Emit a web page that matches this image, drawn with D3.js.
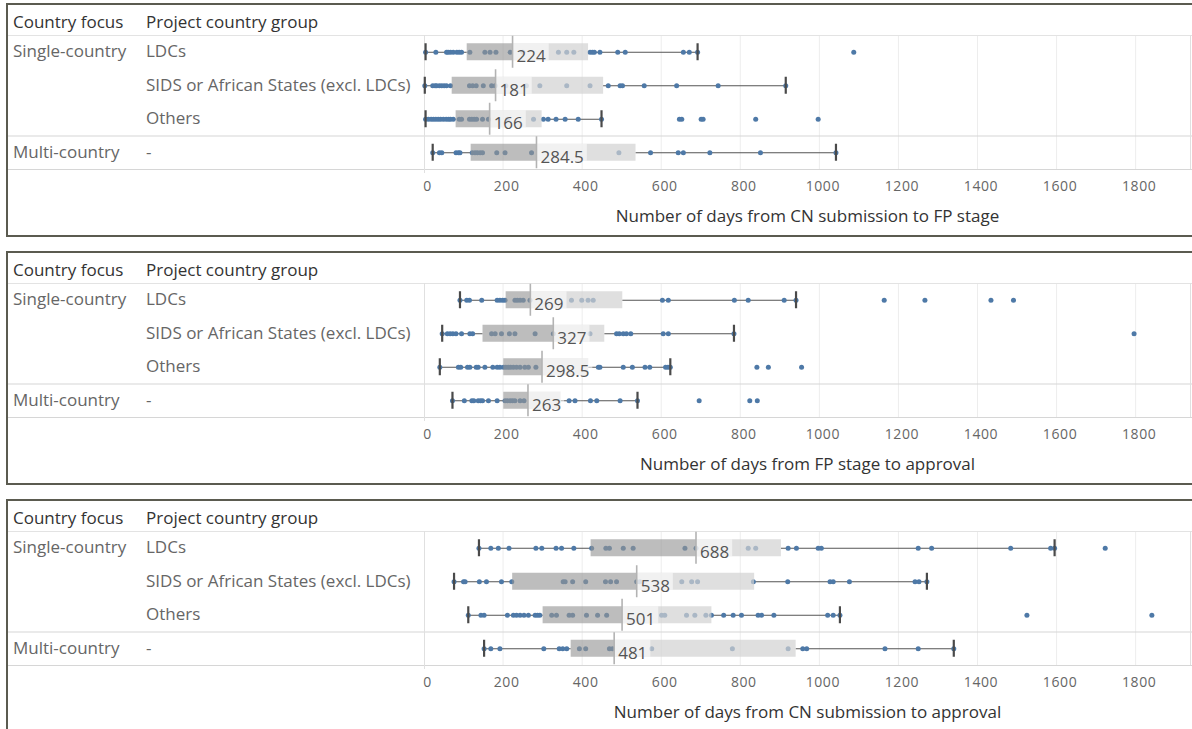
<!DOCTYPE html>
<html>
<head>
<meta charset="utf-8">
<script src="https://cdn.jsdelivr.net/npm/d3@7"></script>
<style>
  html, body { margin: 0; padding: 0; background: #fff; }
  svg { display: block; font-family: "Open Sans", Lato, sans-serif; }
</style>
</head>
<body>
<svg id="chart" width="1192" height="729"></svg>
<script>
// ---- data -------------------------------------------------------------
const groups = ["LDCs", "SIDS or African States (excl. LDCs)", "Others", "-"];
const focus = ["Single-country", "", "", "Multi-country"];
const tickValues = [0, 200, 400, 600, 800, 1000, 1200, 1400, 1600, 1800];
const axisTitles = [
  "Number of days from CN submission to FP stage",
  "Number of days from FP stage to approval",
  "Number of days from CN submission to approval"
];

// CN submission -> FP stage
const cnFpDays = [
  [4, 30, 57, 61, 67, 74, 83, 89, 95, 116, 154, 167, 182, 218, 250, 340, 361, 379, 420, 426, 431, 445, 490, 509, 656, 671, 692, 1087],
  [2, 22, 28, 32, 39, 45, 51, 57, 67, 115, 123, 132, 150, 171, 180, 207, 259, 293, 361, 420, 466, 496, 502, 557, 639, 744, 915],
  [4, 11, 18, 24, 30, 36, 42, 49, 56, 62, 67, 74, 89, 95, 115, 121, 127, 133, 148, 163, 211, 277, 302, 314, 334, 357, 390, 449, 646, 652, 701, 706, 839, 997],
  [22, 39, 45, 81, 87, 91, 122, 129, 135, 142, 148, 184, 205, 272, 493, 573, 643, 656, 723, 851, 1042]
];
const cnFpLow = [4, 2, 4, 22];
const cnFpQ1 = [108, 70, 80, 118];
const cnFpMedian = [224, 181, 166, 284.5];
const cnFpQ3 = [415, 453, 297.5, 535];
const cnFpHigh = [692, 915, 449, 1042];

// FP stage -> approval
const fpApDays = [
  [91, 108, 115, 146, 185, 192, 199, 205, 230, 236, 243, 251, 268, 373, 399, 415, 428, 603, 618, 785, 820, 911, 941, 1164, 1267, 1434, 1491],
  [46, 59, 66, 73, 81, 95, 116, 123, 171, 180, 196, 216, 230, 281, 327, 420, 487, 494, 504, 512, 523, 605, 618, 784, 1796],
  [40, 87, 93, 110, 116, 132, 137, 154, 174, 185, 192, 201, 207, 213, 219, 226, 234, 243, 255, 264, 283, 441, 445, 504, 527, 559, 571, 611, 617, 623, 842, 871, 955],
  [72, 102, 121, 126, 137, 143, 148, 163, 185, 205, 211, 218, 224, 230, 243, 253, 367, 382, 421, 437, 496, 540, 696, 824, 843]
];
const fpApLow = [91, 46, 40, 72];
const fpApQ1 = [206.5, 148, 200.6, 200.6];
const fpApMedian = [269, 327, 298.5, 263];
const fpApQ3 = [501.5, 456, 415.5, 345.5];
const fpApHigh = [941, 784, 623, 540];

// CN submission -> approval
const cnApDays = [
  [139, 169, 188, 215, 283, 298, 334, 348, 379, 424, 460, 469, 504, 529, 660, 688, 820, 839, 921, 942, 997, 1005, 1250, 1284, 1484, 1585, 1595, 1723],
  [76, 100, 104, 140, 158, 196, 222, 352, 357, 376, 409, 459, 472, 487, 538, 546, 652, 677, 692, 833, 920, 1027, 1035, 1076, 1242, 1252, 1272],
  [112, 144, 152, 211, 226, 234, 243, 253, 264, 281, 287, 293, 323, 335, 367, 376, 411, 439, 462, 601, 609, 664, 685, 713, 727, 758, 782, 803, 845, 854, 885, 1021, 1035, 1052, 1525, 1841],
  [152, 169, 192, 303, 342, 351, 361, 393, 409, 469, 477, 576, 780, 921, 958, 968, 1166, 1250, 1340]
];
const cnApLow = [139, 76, 112, 152];
const cnApQ1 = [421.4, 223, 300, 371];
const cnApMedian = [688, 538, 501, 481];
const cnApQ3 = [902.7, 835, 727, 940];
const cnApHigh = [1595, 1272, 1052, 1340];

// ---- assemble panels ---------------------------------------------------
function rowsOf(days, low, q1, med, q3, high) {
  return groups.map((g, i) => ({
    group: g, focus: focus[i], days: days[i],
    low: low[i], q1: q1[i], median: med[i], q3: q3[i], high: high[i]
  }));
}
const panels = [
  { title: axisTitles[0], rows: rowsOf(cnFpDays, cnFpLow, cnFpQ1, cnFpMedian, cnFpQ3, cnFpHigh) },
  { title: axisTitles[1], rows: rowsOf(fpApDays, fpApLow, fpApQ1, fpApMedian, fpApQ3, fpApHigh) },
  { title: axisTitles[2], rows: rowsOf(cnApDays, cnApLow, cnApQ1, cnApMedian, cnApQ3, cnApHigh) }
];

// ---- layout -----------------------------------------------------------
const svg = d3.select("#chart");
const W = 1192;
const panelStep = 248, panelH = 232, panelTop0 = 4;
const paneLeft = 424, paneRight = 1191;
const x = d3.scaleLinear().domain([0, 1940]).range([paneLeft, paneRight]);

const BOX_H = 17, MED_H = 32, CAP_H = 17;
const LABEL_SIZE = 17;

panels.forEach((p, pi) => {
  const top = panelTop0 + pi * panelStep;
  const g = svg.append("g").attr("transform", `translate(0,${top})`);

  const y = d3.scaleBand().domain(groups).range([31, 165]).paddingInner(0).paddingOuter(0);
  const cy = d => y(d) + y.bandwidth() / 2;

  // vertical gridlines
  g.append("g").selectAll("line").data(tickValues.slice(1)).join("line")
    .attr("x1", d => x(d)).attr("x2", d => x(d))
    .attr("y1", 31).attr("y2", 165)
    .attr("stroke", "#ededed").attr("stroke-width", 1);

  // header row
  g.append("text").attr("x", 13).attr("y", 24).text("Country focus")
    .attr("fill", "#333").attr("font-size", LABEL_SIZE);
  g.append("text").attr("x", 146).attr("y", 24).text("Project country group")
    .attr("fill", "#333").attr("font-size", LABEL_SIZE);

  // table rules
  g.append("line").attr("x1", 8).attr("x2", W).attr("y1", 31.5).attr("y2", 31.5)
    .attr("stroke", "#e3e3e3");
  g.append("line").attr("x1", 8).attr("x2", W).attr("y1", y("-") + 0.5).attr("y2", y("-") + 0.5)
    .attr("stroke", "#d6d6d6").attr("stroke-width", 1.2);
  g.append("line").attr("x1", 8).attr("x2", W).attr("y1", 165.5).attr("y2", 165.5)
    .attr("stroke", "#d6d6d6").attr("stroke-width", 1.2);
  g.append("line").attr("x1", paneLeft + 0.5).attr("x2", paneLeft + 0.5).attr("y1", 31).attr("y2", 169)
    .attr("stroke", "#e0e0e0");
  g.append("line").attr("x1", paneRight - 0.5).attr("x2", paneRight - 0.5).attr("y1", 31).attr("y2", 165)
    .attr("stroke", "#e0e0e0");

  // row headers
  g.append("g").selectAll("text").data(p.rows).join("text")
    .attr("x", 13).attr("y", d => cy(d.group) + 5.5)
    .attr("fill", "#666").attr("font-size", LABEL_SIZE).text(d => d.focus);
  g.append("g").selectAll("text").data(p.rows).join("text")
    .attr("x", 146).attr("y", d => cy(d.group) + 5.5)
    .attr("fill", "#666").attr("font-size", LABEL_SIZE).text(d => d.group);

  const rows = g.append("g").selectAll("g").data(p.rows).join("g")
    .attr("transform", d => `translate(0,${cy(d.group)})`);

  // whiskers (outside the box only)
  rows.append("line").attr("x1", d => x(d.low)).attr("x2", d => x(d.q1))
    .attr("y1", 0.5).attr("y2", 0.5).attr("stroke", "#555").attr("stroke-width", 1);
  rows.append("line").attr("x1", d => x(d.q3)).attr("x2", d => x(d.high))
    .attr("y1", 0.5).attr("y2", 0.5).attr("stroke", "#555").attr("stroke-width", 1);

  // individual projects
  rows.append("g").selectAll("circle").data(d => d.days).join("circle")
    .attr("cx", v => x(v)).attr("cy", 0.5).attr("r", 2.5)
    .attr("fill", "#4e79a7");

  // lower and upper halves of the box
  rows.append("rect")
    .attr("x", d => x(d.q1)).attr("width", d => x(d.median) - x(d.q1))
    .attr("y", -BOX_H / 2).attr("height", BOX_H)
    .attr("fill", "rgb(149,149,149)").attr("fill-opacity", 0.62);
  rows.append("rect")
    .attr("x", d => x(d.median)).attr("width", d => x(d.q3) - x(d.median))
    .attr("y", -BOX_H / 2).attr("height", BOX_H)
    .attr("fill", "rgb(210,210,210)").attr("fill-opacity", 0.7);

  // median label with halo
  const lab = rows.append("g");
  lab.append("text")
    .attr("x", d => x(d.median) + 4).attr("y", 10.5)
    .attr("fill", "#555").attr("font-size", 17)
    .text(d => d3.format("~f")(d.median));
  lab.insert("rect", "text")
    .attr("x", d => x(d.median))
    .attr("y", -BOX_H / 2).attr("height", BOX_H)
    .attr("width", function () {
      return this.parentNode.querySelector("text").getComputedTextLength() + 7;
    })
    .attr("fill", "#fff").attr("fill-opacity", 0.55);

  // median line
  rows.append("line").attr("x1", d => x(d.median)).attr("x2", d => x(d.median))
    .attr("y1", -MED_H / 2).attr("y2", MED_H / 2)
    .attr("stroke", "#b3b3b3").attr("stroke-width", 1.6);

  // whisker caps
  rows.append("g").selectAll("line").data(d => [d.low, d.high]).join("line")
    .attr("x1", v => x(v)).attr("x2", v => x(v))
    .attr("y1", -CAP_H / 2).attr("y2", CAP_H / 2)
    .attr("stroke", "#4a4a4a").attr("stroke-width", 2.2);

  // axis
  const axis = d3.axisBottom(x).tickValues(tickValues).tickFormat(d3.format("d"))
    .tickSize(0).tickPadding(0);
  const ax = g.append("g").attr("transform", "translate(0,177)").call(axis);
  ax.select(".domain").remove();
  ax.selectAll("text").attr("font-size", 14).attr("fill", "#666")
    .attr("font-family", "'Open Sans', sans-serif").attr("letter-spacing", 0.6)
    .attr("dx", 3).attr("dy", "0.71em");

  g.append("text").attr("x", (paneLeft + paneRight) / 2).attr("y", 218)
    .attr("text-anchor", "middle").attr("fill", "#333").attr("font-size", LABEL_SIZE)
    .text(p.title);

  // panel frame
  g.append("rect").attr("x", 7).attr("y", 0).attr("width", W + 10).attr("height", panelH)
    .attr("fill", "none").attr("stroke", "#5b5b50").attr("stroke-width", 2);
});
</script>
</body>
</html>
